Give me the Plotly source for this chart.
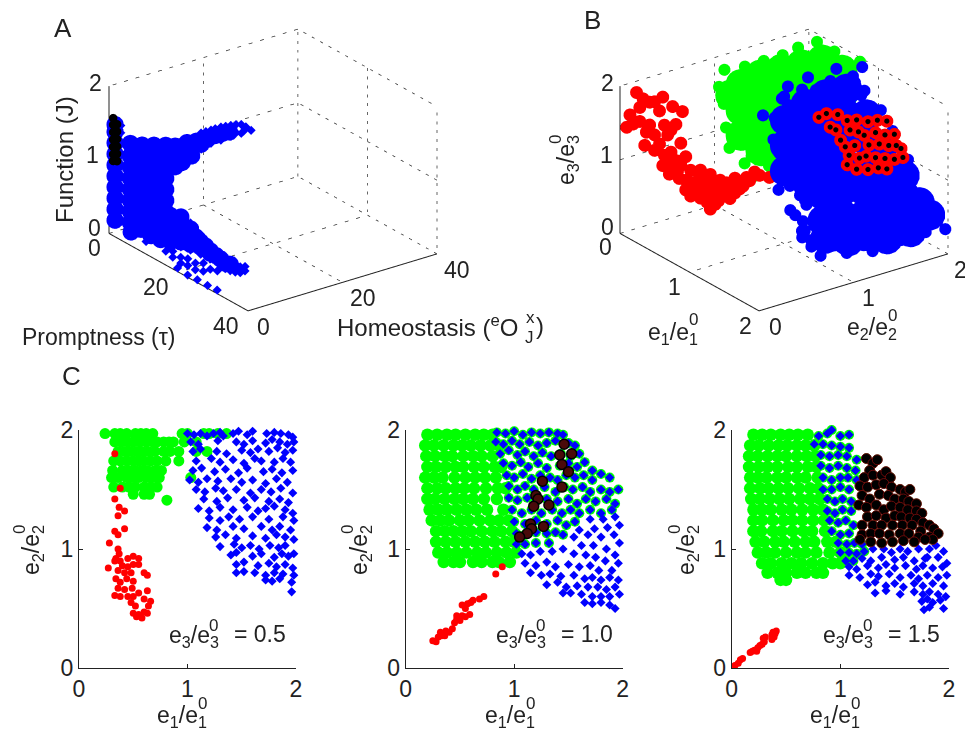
import plotly.graph_objects as go

# ---------- Panel C data: (e1/e1^0, e2/e2^0) pairs, rows are (e2, [e1...]) ----------
c1_green_rows = [
 (1.97,[.24,.33,.38,.44,.52,.57,.62,.68,.95,1.0,1.15,1.2,1.28,1.36]),
 (1.9,[.33,.39,.45,.5,.56,.62,.68,.72,.78,.83,.87,.97,1.08]),
 (1.82,[.36,.42,.47,.53,.58,.64,.7,.78,.84,.92,1.08,1.18]),
 (1.74,[.32,.38,.44,.5,.55,.6,.66,.72,.8,.92]),
 (1.66,[.31,.4,.46,.52,.58,.63,.7,.76]),
 (1.6,[.3,.36,.44,.49,.55,.62,.68,.74,1.03]),
 (1.52,[.32,.4,.46,.52,.6,.66,.72]),
 (1.46,[.5,.6,.65]),
 (1.41,[.81]),
]
c1_red = [(.33,1.8),(.38,1.51),(.33,1.42),(.37,1.35),(.42,1.32),(.36,1.28),(.33,1.15),(.42,1.17),(.36,1.12),(.28,1.05),(.36,1.0),(.37,.96),(.34,.92),(.38,.9),(.45,.92),(.5,.94),(.55,.92),(.33,.9),(.4,.86),(.45,.85),(.5,.87),(.55,.87),(.27,.84),(.36,.82),(.42,.8),(.48,.8),(.6,.8),(.63,.78),(.34,.75),(.38,.72),(.44,.75),(.5,.73),(.36,.67),(.42,.66),(.49,.67),(.55,.63),(.63,.65),(.33,.61),(.38,.6),(.45,.6),(.5,.6),(.6,.58),(.48,.55),(.52,.52),(.66,.56),(.64,.52),(.5,.46),(.55,.45),(.6,.47),(.63,.46),(.58,.42),(.53,.43)]
c1_blue = [(1.0,1.97),(1.06,1.96),(1.12,1.97),(1.18,1.95),(1.24,1.97),(1.3,1.98),(1.33,1.95),(1.42,1.97),(1.47,1.99),(1.55,1.96),(1.6,1.99),(1.73,1.97),(1.8,1.98),(1.86,1.97),(1.93,1.96),(1.97,1.94),
 (1.03,1.9),(1.1,1.88),(1.28,1.91),(1.45,1.9),(1.52,1.88),(1.6,1.91),(1.72,1.89),(1.78,1.92),(1.85,1.9),(1.92,1.88),(1.98,1.9),
 (1.05,1.82),(1.12,1.84),(1.27,1.82),(1.36,1.8),(1.5,1.83),(1.58,1.81),(1.65,1.84),(1.75,1.82),(1.83,1.85),(1.9,1.81),(1.97,1.83),
 (1.08,1.74),(1.22,1.76),(1.3,1.73),(1.42,1.75),(1.52,1.72),(1.62,1.76),(1.68,1.74),(1.8,1.73),(1.88,1.76),(1.95,1.73),
 (1.05,1.66),(1.13,1.68),(1.25,1.65),(1.35,1.67),(1.47,1.64),(1.55,1.68),(1.7,1.65),(1.78,1.67),(1.87,1.64),(1.97,1.66),
 (1.02,1.58),(1.1,1.56),(1.18,1.59),(1.28,1.57),(1.4,1.59),(1.5,1.56),(1.6,1.58),(1.72,1.55),(1.82,1.59),(1.92,1.56),
 (1.08,1.5),(1.16,1.48),(1.26,1.51),(1.33,1.49),(1.45,1.5),(1.58,1.47),(1.68,1.5),(1.77,1.48),(1.86,1.51),(1.97,1.47),
 (1.15,1.42),(1.27,1.4),(1.37,1.43),(1.52,1.41),(1.62,1.43),(1.75,1.4),(1.85,1.42),(1.93,1.39),
 (1.1,1.34),(1.2,1.32),(1.3,1.35),(1.42,1.33),(1.55,1.35),(1.65,1.32),(1.72,1.34),(1.8,1.36),(1.9,1.33),(1.97,1.3),
 (1.2,1.26),(1.3,1.24),(1.38,1.27),(1.48,1.25),(1.6,1.27),(1.75,1.25),(1.88,1.27),(1.98,1.24),
 (1.18,1.18),(1.27,1.16),(1.42,1.19),(1.52,1.17),(1.68,1.19),(1.78,1.16),(1.85,1.19),(1.95,1.16),
 (1.26,1.1),(1.35,1.12),(1.45,1.09),(1.6,1.11),(1.72,1.09),(1.82,1.12),(1.9,1.1),(1.98,1.08),
 (1.3,1.02),(1.43,1.04),(1.5,1.01),(1.58,1.03),(1.66,1.0),(1.76,1.03),(1.84,1.01),(1.9,1.03),
 (1.4,.95),(1.45,.97),(1.6,.94),(1.68,.96),(1.8,.93),(1.87,.96),(1.93,.94),(1.98,.96),
 (1.45,.87),(1.52,.89),(1.65,.86),(1.75,.88),(1.82,.85),(1.9,.87),(1.97,.84),
 (1.45,.8),(1.52,.81),(1.62,.8),(1.72,.78),(1.8,.8),(1.88,.79),(1.98,.78),
 (1.72,.74),(1.78,.73),(1.85,.75),(1.96,.72),(1.96,.64)]

c2_green_rows = [
 (1.96,[.2,.29,.38,.46,.55,.64,.72,.8]),
 (1.87,[.18,.26,.35,.44,.52,.6,.69,.78,.86]),
 (1.78,[.19,.27,.36,.43,.53,.62,.7,.8]),
 (1.69,[.2,.28,.37,.46,.53,.63,.72,.82,.88]),
 (1.6,[.18,.26,.34,.45,.55,.64,.73,.83]),
 (1.51,[.2,.29,.37,.46,.54,.63,.74,.85,.92]),
 (1.42,[.2,.27,.36,.45,.53,.62,.72,.84]),
 (1.33,[.22,.3,.38,.47,.56,.65,.75,.9]),
 (1.24,[.24,.32,.4,.5,.58,.68,.78,.86,.95]),
 (1.15,[.28,.36,.44,.52,.6,.7,.8,.88,.98]),
 (1.06,[.28,.37,.46,.55,.64,.73,.82,.92,1.0]),
 (.97,[.3,.38,.47,.56,.66,.74,.84,.93,1.02]),
 (.89,[.35,.44,.5,.62,.7,.8,.86,.96]),
]
c2_both = [(.84,1.98),(.92,1.97),(1.0,1.99),(1.08,1.96),(1.16,1.98),(1.24,1.97),(1.32,1.98),(1.4,1.97),(1.45,1.96),
 (.83,1.9),(.9,1.88),(.98,1.91),(1.05,1.88),(1.14,1.9),(1.22,1.87),(1.3,1.89),(1.38,1.91),(1.5,1.89),(1.56,1.87),
 (.87,1.8),(.95,1.83),(1.03,1.79),(1.1,1.82),(1.18,1.78),(1.26,1.81),(1.34,1.78),(1.43,1.8),(1.52,1.78),(1.6,1.8),
 (.9,1.72),(.98,1.7),(1.06,1.73),(1.13,1.69),(1.22,1.72),(1.3,1.68),(1.42,1.7),(1.5,1.72),(1.58,1.69),(1.65,1.73),(1.72,1.66),
 (.93,1.62),(1.0,1.6),(1.08,1.63),(1.16,1.59),(1.24,1.62),(1.33,1.6),(1.4,1.58),(1.48,1.62),(1.56,1.6),(1.64,1.62),(1.72,1.58),(1.8,1.63),(1.88,1.6),
 (.95,1.53),(1.03,1.5),(1.1,1.53),(1.18,1.5),(1.28,1.52),(1.38,1.48),(1.46,1.52),(1.54,1.5),(1.63,1.52),(1.7,1.48),(1.8,1.5),(1.88,1.48),(1.96,1.5),
 (.95,1.43),(1.03,1.41),(1.12,1.43),(1.2,1.4),(1.3,1.42),(1.4,1.4),(1.5,1.42),(1.58,1.38),(1.66,1.42),(1.75,1.4),(1.85,1.42),(1.93,1.38),
 (.98,1.33),(1.07,1.3),(1.16,1.33),(1.25,1.3),(1.35,1.33),(1.44,1.3),(1.52,1.33),(1.6,1.3),(1.7,1.33),(1.8,1.3),(1.9,1.33),
 (1.0,1.23),(1.1,1.21),(1.2,1.24),(1.3,1.21),(1.4,1.24),(1.48,1.2),(1.56,1.23),
 (1.02,1.13),(1.1,1.12),(1.2,1.14),(1.3,1.13),(1.38,1.14),(1.45,1.12),
 (1.02,1.04),(1.1,1.04),(1.2,1.05),(1.32,1.05)]
c2_blue_only = [(1.7,1.25),(1.82,1.25),(1.93,1.27),(1.97,1.2),(1.86,1.18),(1.74,1.17),(1.6,1.16),
 (1.55,1.1),(1.68,1.12),(1.8,1.1),(1.92,1.12),(1.97,1.05),(1.62,1.03),(1.73,1.03),(1.85,1.0),(1.93,.95),
 (1.07,.96),(1.15,.95),(1.24,.98),(1.35,.98),(1.45,1.0),(1.55,.96),(1.66,.95),(1.75,.93),(1.84,.9),(1.96,.88),
 (1.1,.88),(1.2,.86),(1.3,.89),(1.38,.85),(1.5,.87),(1.6,.85),(1.7,.86),(1.78,.82),(1.9,.82),
 (1.15,.8),(1.25,.78),(1.33,.79),(1.43,.77),(1.55,.78),(1.65,.75),(1.72,.76),(1.8,.74),(1.88,.76),(1.96,.74),
 (1.3,.7),(1.4,.72),(1.48,.68),(1.58,.69),(1.68,.68),(1.77,.68),(1.85,.66),(1.93,.68),
 (1.45,.63),(1.52,.63),(1.62,.62),(1.72,.6),(1.8,.6),(1.88,.6),(1.97,.62),
 (1.65,.55),(1.72,.54),(1.8,.55),(1.88,.53),(1.93,.5)]
c2_black = [(1.46,1.88),(1.42,1.79),(1.53,1.8),(1.44,1.71),(1.5,1.65),(1.26,1.57),(1.44,1.52),(1.2,1.45),(1.22,1.42),(1.18,1.36),(1.32,1.37),(1.15,1.21),(1.16,1.17),(1.27,1.19),(1.12,1.13),(1.05,1.1)]
c2_red = [(.25,.23),(.28,.22),(.3,.26),(.33,.27),(.32,.3),(.36,.27),(.37,.31),(.4,.3),(.43,.33),(.45,.38),(.47,.41),(.5,.4),(.47,.44),(.52,.44),(.55,.43),(.59,.45),(.55,.5),(.52,.53),(.57,.54),(.6,.55),(.62,.57),(.68,.58),(.72,.6),(.83,.79),(.89,.85)]

c3_green_rows = [
 (1.96,[.2,.28,.36,.45,.53,.61,.7]),
 (1.87,[.17,.25,.34,.43,.51,.6,.68,.76]),
 (1.78,[.16,.24,.33,.42,.5,.6,.69,.77]),
 (1.69,[.16,.25,.33,.42,.52,.6,.7,.78]),
 (1.6,[.17,.24,.32,.42,.5,.6,.68,.79]),
 (1.51,[.17,.26,.34,.43,.52,.62,.72,.8]),
 (1.42,[.18,.26,.35,.44,.53,.63,.72,.81]),
 (1.33,[.2,.28,.36,.46,.55,.65,.75,.84]),
 (1.24,[.2,.28,.38,.48,.56,.65,.75,.85]),
 (1.15,[.2,.27,.38,.46,.56,.66,.74,.86]),
 (1.06,[.22,.3,.4,.48,.58,.68,.76,.88,.96]),
 (.97,[.24,.32,.4,.5,.6,.68,.78,.9,1.0]),
 (.88,[.28,.36,.46,.55,.64,.74,.84,.93,1.0]),
 (.8,[.33,.42,.5,.6,.68,.78,.84]),
 (.74,[.45,.5]),
]
c3_both = [(.8,1.95),(.88,1.97),(.92,2.0),(1.0,1.95),(1.08,1.96),(.76,1.88),(.84,1.88),(.92,1.87),(1.0,1.86),(1.08,1.85),(.82,1.79),(.9,1.78),(.98,1.79),(1.06,1.78),(1.15,1.75),
 (.82,1.7),(.9,1.68),(.98,1.7),(1.06,1.68),(1.14,1.66),(.84,1.6),(.92,1.58),(1.0,1.6),(1.07,1.6),(1.15,1.58),(.84,1.5),(.92,1.5),(1.0,1.52),(1.08,1.5),(.88,1.42),(.95,1.4),(1.02,1.42),(1.1,1.4),
 (.88,1.32),(.95,1.3),(1.02,1.33),(1.1,1.32),(.9,1.24),(.98,1.22),(1.05,1.24),(1.12,1.2),(.92,1.15),(1.0,1.12),(1.08,1.13),(.98,1.05),(1.06,1.04),(1.13,1.05),(1.2,1.04),(1.0,.97),(1.08,.97),(1.15,.96),(1.22,.98),(1.05,.9),(1.12,.9)]
c3_blue_only = [(1.3,1.0),(1.4,1.0),(1.47,.97),(1.55,1.0),(1.62,.98),(1.72,1.0),(1.82,1.0),(1.88,1.03),(1.95,.98),(1.8,.93),(1.9,.93),(1.98,.88),
 (1.2,.92),(1.28,.9),(1.38,.93),(1.5,.91),(1.58,.93),(1.68,.9),(1.78,.92),
 (1.08,.85),(1.15,.83),(1.25,.86),(1.35,.84),(1.42,.87),(1.5,.84),(1.6,.86),(1.7,.83),(1.76,.86),(1.85,.84),(1.94,.85),
 (1.08,.78),(1.18,.76),(1.28,.79),(1.35,.77),(1.45,.79),(1.55,.76),(1.65,.78),(1.72,.75),(1.8,.78),(1.9,.76),(1.98,.78),
 (1.25,.7),(1.32,.72),(1.42,.69),(1.5,.71),(1.58,.68),(1.68,.71),(1.76,.69),(1.85,.71),(1.95,.69),
 (1.32,.63),(1.42,.65),(1.55,.62),(1.68,.64),(1.76,.62),(1.82,.64),(1.9,.62),(1.97,.6),
 (1.75,.56),(1.8,.58),(1.85,.55),(1.92,.57),(1.77,.49),(1.82,.51),(1.95,.5)]
c3_black = [(1.24,1.76),(1.3,1.72),(1.34,1.75),(1.27,1.66),(1.22,1.6),(1.3,1.62),(1.38,1.62),(1.42,1.65),(1.46,1.6),(1.18,1.53),(1.25,1.52),(1.33,1.54),(1.4,1.55),(1.47,1.52),(1.55,1.5),(1.6,1.48),(1.64,1.5),
 (1.2,1.45),(1.27,1.42),(1.36,1.46),(1.44,1.45),(1.5,1.42),(1.58,1.42),(1.63,1.4),(1.7,1.38),
 (1.17,1.37),(1.24,1.35),(1.33,1.37),(1.4,1.33),(1.47,1.36),(1.55,1.35),(1.62,1.33),(1.7,1.32),(1.75,1.3),
 (1.25,1.27),(1.33,1.28),(1.42,1.26),(1.5,1.28),(1.56,1.27),(1.64,1.26),(1.7,1.25),(1.76,1.22),(1.82,1.2),
 (1.2,1.2),(1.3,1.2),(1.38,1.2),(1.48,1.2),(1.57,1.2),(1.66,1.2),(1.74,1.15),(1.86,1.17),(1.9,1.13),
 (1.2,1.12),(1.28,1.13),(1.36,1.13),(1.45,1.12),(1.55,1.13),(1.63,1.13),(1.72,1.1),(1.82,1.1),(1.85,1.08),
 (1.18,1.08),(1.28,1.06),(1.38,1.05),(1.48,1.06),(1.58,1.07),(1.68,1.06),(1.78,1.08)]
c3_red = [(.03,.02),(.06,.04),(.08,.07),(.1,.08),(.17,.13),(.19,.14),(.21,.15),(.24,.17),(.23,.14),(.26,.19),(.28,.2),(.3,.22),(.29,.25),(.31,.26),(.37,.24),(.39,.26),(.37,.28),(.4,.29),(.41,.31),(.38,.3)]

# ---------- Panel A data: (promptness, homeostasis, function) ----------
a_blue_small = [(2,18,1.07),(2,18,.95),(2,18,.85),(2,19,1.07),(2,19,.88),(2,20.1,1.07),(2,20.1,.98),(2,20.1,.89),(2,21,1.07),(2,21,.95),(2,22.2,1.07),(2,22.2,.98),(2,22.2,.89),
 (2,23.2,1.06),(2,23.2,.92),(2,24.3,1.05),(2,24.3,.9),(2,25.4,1.04),(2,25.4,.93),(2,26.5,1.02),(2,26.5,.9),(2,27.5,.97),(2,28.6,.9),(2,27,.92),
 (30.7,2,.43),(30.7,2,.29),(32.1,2,.44),(32.1,2,.3),(33.6,2,.43),(33.6,2,.32),(35,2,.43),(35,2,.35),(36.4,2,.47),(36.4,2,.41),(32,2,.37),(34,2,.38),
 (20.7,2,.65),(20.7,2,.28),(23.6,2,.57),(23.6,2,.3),(26.4,2,.49),(26.4,2,.31),(29.3,2,.46),(29.3,2,.3),(17.9,2,.25),
 (7.9,2,.06),(10.7,2,.14),(13.6,2,.08),(15.6,2,.13),(15.6,2,.05),(17.9,2,.11),(17.9,2,.03),(19.9,2,.14),(19.9,2,.05),(22.1,2,.14),(22.1,2,.05),(24.4,2,.2),(24.4,2,.09),(26.4,2,.17),(28.4,2,.2),
 (19.7,0,.05),(22.6,0,.03),(25.4,0,.04),(28.3,0,.04),(31.1,0,.05),(2,1,1.5),(2,1,1.4)]
a_blue_big = [(1,.5,1.5),(1,.5,1.4),(1,.5,1.25),(1,.5,1.1),(1,.5,.95),(1,.5,.8),(1,.5,.65),(1,.5,.5),(1,.5,.35),(1,.5,.2),
 (2,3,1.22),(2,3,1.05),(2,3,.9),(2,3,.75),(2,3,.6),(2,3,.45),(2,3,.3),(2,3,.15),
 (2,5.5,1.15),(2,5.5,1.0),(2,5.5,.85),(2,5.5,.7),(2,5.5,.55),(2,5.5,.4),(2,5.5,.25),(2,5.5,.1),
 (2,8,1.1),(2,8,.95),(2,8,.8),(2,8,.65),(2,8,.5),(2,8,.35),(2,8,.2),(2,8,.05),
 (2,10.5,1.05),(2,10.5,.9),(2,10.5,.75),(2,10.5,.6),(2,10.5,.45),(2,10.5,.3),(2,10.5,.15),(2,10.5,.02),
 (2,12.5,1.0),(2,12.5,.85),(2,12.5,.72),(2,14,.75),(2,15,1.0),(2,15,.85),(2,16,.8),(2,17,.98),(2,18,.92),(2,19,.96),(2,21,.98),(2,22.5,.98),(2,24,.97),
 (3.6,2,.08),(6.4,2,.19),(9.3,2,.3),(9.3,2,.18),(12.1,2,.38),(12.1,2,.2),(14,2,.5),(15,2,.6),(15,2,.41),(15,2,.25),
 (17.9,2,.66),(17.9,2,.47),(17.9,2,.32),(19,2,.55),(20.7,2,.57),(20.7,2,.36),(22,2,.5),(23.6,2,.47),(23.6,2,.4),(25,2,.45),(26.4,2,.42),(26.4,2,.39),(28,2,.4),(29.3,2,.39),(31,2,.37),(32.1,2,.39)]
a_black = [(.5,.5,1.57),(.5,.5,1.48),(.5,.5,1.38),(.5,.5,1.28),(.5,.5,1.18),(.5,.5,1.08),(.5,.5,.99),(1.2,.8,1.5),(1.2,.8,1.4),(1.2,.8,1.3),(1.2,.8,1.2),(1.2,.8,1.1),(1.2,.8,1.0)]

# ---------- Panel B data: (e1, e2, e3) ----------
b_blue = [(1.9,1.0,.35),(2,1.2,.35),(1.95,1.4,.35),(2,1.6,.35),(1.95,1.8,.35),(2,1.97,.35),(1.8,1.1,.35),(1.8,1.4,.35),(1.8,1.7,.35),(1.75,1.95,.35),(1.65,1.3,.35),(1.65,1.6,.35),
 (1.5,.85,.5),(1.6,.75,.5),(1.8,.7,.5),(2,.65,.5),(1.6,1.05,.5),(1.8,.95,.5),(2,.9,.5),(1.45,1.1,.5),(1.3,1.3,.5),(1.15,1.5,.5),(1.5,1.4,.5),(1.7,1.3,.5),(1.0,1.7,.5),(1.2,1.8,.5),(1.4,1.7,.5),(1.6,1.6,.5),(1.8,1.6,.5),(1.2,2,.5),(1.5,1.95,.5),(1.8,1.9,.5),
 (1.1,1.25,.75),(1.3,1.0,.75),(1.5,.75,.75),(1.8,.6,.75),(2,.55,.75),(1.75,.85,.75),(2,.8,.75),(2,1.1,.75),(2,1.4,.75),(2,1.7,.75),(1.75,1.75,.75),(1.5,1.98,.75),
 (1,1,1),(1.3,.72,1),(1.7,.55,1),(1.95,.5,1),(1.2,.95,1),(1.5,.8,1),(2,.75,1),(.9,1.5,1),(1.9,1.25,1),(.85,1.75,1),(2,1.4,1),(.85,1.95,1),(1.1,1.95,1),(1.35,1.8,1),(1.6,1.75,1),(1.45,1.98,1),(1.75,1.7,1),
 (1,.95,1.25),(1.2,.8,1.25),(1.6,.62,1.25),(2,.5,1.25),(1.4,.75,1.25),(1.8,.6,1.25),(.95,1.2,1.25),(1.95,.8,1.25),(.85,1.5,1.25),(2,1.15,1.25),(.8,1.75,1.25),(1.8,1.35,1.25),(.8,2,1.25),(1.05,1.8,1.25),(1.3,1.75,1.25),(1.5,1.7,1.25),(1.2,2,1.25),
 (1.05,.85,1.5),(1.5,.7,1.5),(1.95,.5,1.5),(1.25,.8,1.5),(1.7,.6,1.5),(.85,1.4,1.5),(1.95,.8,1.5),(.75,2,1.5),(.8,1.7,1.5),(1.95,1.05,1.5),(1,1.85,1.5),(1.1,1.95,1.5),(1.2,1.8,1.5),(1.6,1.4,1.5),
 (.9,.85,1.75),(1,.9,1.75),(1.4,.8,1.75),(1.8,.6,1.75),(1.2,.85,1.75),(1.6,.7,1.75),(.85,1.15,1.75),(1.75,.85,1.75),(.8,1.4,1.75),(.75,1.65,1.75),(.7,1.95,1.75),(.9,1.8,1.75),(1.0,1.85,1.75),(1.3,1.5,1.75),
 (.9,1.05,1.9),(.85,1.3,1.9),(.85,1.6,1.9),(1.35,.95,1.9),(1.0,1.75,1.9),
 (.85,1.15,2),(.8,1.4,2),(.8,1.7,2),(.9,1.9,2),(1.05,1.6,2),(1.05,1.3,2),(1,1,2),(1.3,1.2,2),(1.25,.95,2),(1.5,1,2)]
b_blue_core = [(1,1.01,1.68),(1,1.01,1.34),(1,1.01,.99),(1,1.23,1.81),(1,1.23,1.46),(1,1.23,1.12),(1,1.23,.77),(1,1.44,1.86),(1,1.44,1.52),(1,1.44,1.17),(1,1.44,.83),(1,1.66,1.85),(1,1.66,1.5),(1,1.66,1.16),(1,1.66,.81),(1,1.87,1.42),(1,1.87,1.07),(1,1.87,.73),
 (1.8,.82,1.16),(1.8,.82,.81),(1.8,.85,.56),(1.8,.93,.56),(1.8,1.03,1.14),(1.8,1.03,.8),(1.8,1.09,.43),(1.8,1.25,1.06),(1.8,1.25,.71),(1.8,1.25,.44),(1.8,1.41,.37),(1.8,1.5,.3),(1.8,1.46,1.59),(1.8,1.46,1.25),(1.8,1.46,.9),(1.8,1.46,.56),(1.8,1.63,.36),(1.8,1.75,.3),(1.8,1.68,1.09),(1.8,1.68,.82),(1.8,1.68,.54),(1.8,1.79,.5),(1.8,1.84,.66),(1.8,1.95,.45)]
b_green = [(.25,.92,2),(.3,1.1,2),(.3,1.3,2),(.3,1.5,2),(.25,1.7,2),(.25,1.9,2),(.5,1.0,2),(.5,1.3,2),(.5,1.6,2),(.5,1.9,2),(.75,1.1,2),(.75,1.4,2),(.75,1.7,2),(.8,1.95,2),
 (.2,.9,1.75),(.3,1.15,1.75),(.25,1.75,1.75),(.5,1.95,1.75),(.75,1.75,1.75),
 (.2,.95,1.5),(.3,1.2,1.5),(.5,.95,1.5),(.3,1.85,1.5),
 (.3,.9,1.25),(.35,1.2,1.25),(.55,.95,1.25),
 (.35,.9,1),(.6,.95,1),(.85,.95,1),(.4,1.2,1),
 (.5,.95,.85),(.7,.9,.8),(.55,1.2,.8),(.75,1.2,.8)]
b_green_core = [(.5,.8,1.84),(.5,.91,1.94),(.5,.91,1.59),(.5,.91,1.25),(.5,1.12,1.99),(.5,1.12,1.65),(.5,1.12,1.3),(.5,1.12,.96),(.5,1.34,1.98),(.5,1.34,1.63),(.5,1.34,1.29),(.5,1.34,.94),(.5,1.55,1.96),(.5,1.55,1.62),(.5,1.55,1.27),(.5,1.55,.93),(.5,1.77,1.94),(.5,1.77,1.6),(.5,1.77,1.26),(.5,1.98,1.72),(.5,1.98,1.38)]
b_red = [(.10,.10,1.93),(.18,.18,1.81),(.26,.26,1.89),(.21,.21,1.82),(.32,.32,1.77),(.38,.38,1.71),(.12,.12,1.73),(.06,.06,1.62),(.04,.04,1.45),(.12,.12,1.54),(.18,.18,1.5),(.27,.27,1.51),(.34,.34,1.53),
 (.15,.15,1.22),(.21,.21,1.37),(.29,.29,1.38),(.37,.37,1.28),(.21,.21,1.16),(.27,.27,1.1),(.34,.34,1.04),(.26,.26,.96),(.43,.43,.92),(.32,.32,.87),(.37,.37,.98),(.40,.40,.78),(.49,.49,.93),(.46,.46,.71),(.52,.52,.79),(.49,.49,.55),(.55,.55,.41),(.6,.6,.53),(.55,.55,.66),(.64,.64,.67),(.67,.67,.57),(.73,.73,.71),(.79,.79,.83),(.85,.85,.91),(.91,.91,.89),(.82,.82,.95),(.61,.61,.81),(.70,.70,.85),(.43,.43,.57),(.58,.58,.75),(.5,.5,.65),(.65,.65,.78),(.57,.57,.6),
 (.47,.47,.62),(.52,.52,.6),(.62,.62,.6),(.58,.58,.48),(.53,.53,.5),(.7,.7,.65),(.75,.75,.75),(.42,.42,.68),(.48,.48,.8),(.55,.55,.88),(.35,.35,.9),(.3,.3,1.0),(.62,.62,.72),(.68,.68,.72),(.77,.77,.87),
 (.14,.14,1.85),(.08,.08,1.5),(.24,.24,1.7),(.16,.16,1.4),(.31,.31,1.45),(.24,.24,1.25),(.31,.31,1.15),(.4,.4,1.1),(.3,.3,.85),(.36,.36,.8),(.44,.44,.75),(.4,.4,.65)]
b_black = [(1.5,1.0,1.98),(1.5,1.08,2.0),(1.5,1.12,1.8),(1.5,1.2,1.94),(1.5,1.18,1.74),(1.5,1.23,1.58),(1.5,1.3,1.82),(1.5,1.33,1.68),(1.5,1.28,1.47),(1.5,1.32,1.34),(1.5,1.3,1.22),
 (1.5,1.4,1.79),(1.5,1.42,1.62),(1.5,1.38,1.45),(1.5,1.43,1.26),(1.5,1.4,1.12),(1.5,1.52,1.72),(1.5,1.48,1.55),(1.5,1.53,1.4),(1.5,1.5,1.26),(1.5,1.52,1.07),
 (1.5,1.62,1.7),(1.5,1.6,1.54),(1.5,1.64,1.37),(1.5,1.6,1.2),(1.5,1.63,1.05),(1.5,1.72,1.65),(1.5,1.7,1.47),(1.5,1.74,1.31),(1.5,1.7,1.15),(1.5,1.72,1.0),(1.5,1.8,1.44),(1.5,1.82,1.28),(1.5,1.8,1.1),(1.5,1.87,1.22),(1.5,1.89,1.09)]

x_ticks = [0, 1, 2]

GREEN, BLUE, RED, BLACK = "#00ff00", "#0000ff", "#ff0000", "#000000"
FONT = "Liberation Sans, Arial, sans-serif"
INK = "#222222"
W, H = 965, 733

fig = go.Figure()

def flat(rows):
    return [(x, y) for y, xs in rows for x in xs]

def pts2d(p, color, size, symbol, ax, line=None):
    fig.add_trace(go.Scatter(x=[q[0] for q in p], y=[q[1] for q in p], mode="markers", xaxis=f"x{ax}", yaxis=f"y{ax}", cliponaxis=False,
        marker=dict(color=color, size=size, symbol=symbol, line=line or dict(width=0)), hoverinfo="skip", showlegend=False))

pts2d(flat(c1_green_rows), GREEN, 11, "circle", 1)
pts2d(c1_blue, BLUE, 7, "diamond", 1)
pts2d(c1_red, RED, 7, "circle", 1)

pts2d(flat(c2_green_rows), GREEN, 12.5, "circle", 2)
pts2d(c2_both, GREEN, 10, "circle", 2)
pts2d(c2_both + c2_blue_only, BLUE, 7, "diamond", 2)
pts2d(c2_red, RED, 7, "circle", 2)
pts2d(c2_black, "#4a0a0a", 10, "circle", 2, dict(width=1.5, color="#000000"))

pts2d(flat(c3_green_rows), GREEN, 12.5, "circle", 3)
pts2d(c3_both + c3_black, GREEN, 10, "circle", 3)
pts2d(c3_both + c3_blue_only, BLUE, 7, "diamond", 3)
pts2d(c3_red, RED, 7, "circle", 3)
pts2d(c3_black, "#000000", 10, "circle", 3, dict(width=1, color="#6a0a0a"))

def px_dom_x(a, b): return [a / W, b / W]
def px_dom_y(a, b): return [1 - b / H, 1 - a / H]

axis_common = dict(range=[0, 2], tickvals=x_ticks, ticks="inside", ticklen=4, tickcolor=INK, showline=True, linecolor=INK, linewidth=1.2,
                   showgrid=False, zeroline=False, tickfont=dict(family=FONT, size=23, color=INK), mirror=False)
panels = [(79, 296), (405.7, 622.7), (731.7, 949)]
layout = dict(width=W, height=H, margin=dict(l=0, r=0, t=0, b=0, autoexpand=False), paper_bgcolor="white", plot_bgcolor="rgba(0,0,0,0)", showlegend=False)
for i, (a, b) in enumerate(panels, 1):
    layout[f"xaxis{i}" if i > 1 else "xaxis"] = dict(domain=px_dom_x(a, b), anchor=f"y{i}" if i > 1 else "y", **axis_common)
    layout[f"yaxis{i}" if i > 1 else "yaxis"] = dict(domain=px_dom_y(430, 668), anchor=f"x{i}" if i > 1 else "x", **axis_common)

# ---------- 3D scenes ----------
EYE = 1.4
eye = dict(x=.735 * EYE, y=-.541 * EYE, z=.41 * EYE)
ASPECT = dict(x=1.38, y=1.38, z=.95)

def scene(cx):
    ax = lambda r: dict(visible=False, range=[0, r], autorange=False)
    return lambda rx, rz: dict(domain=dict(x=px_dom_x(cx - 180, cx + 180), y=px_dom_y(0, 340)), xaxis=ax(rx), yaxis=ax(rx), zaxis=ax(rz),
        aspectmode="manual", aspectratio=ASPECT, bgcolor="rgba(0,0,0,0)",
        camera=dict(eye=eye, up=dict(x=0, y=0, z=1), center=dict(x=0, y=0, z=0), projection=dict(type="orthographic")))

def pts3d(p, color, size, symbol, sc, line=None):
    fig.add_trace(go.Scatter3d(x=[q[0] for q in p], y=[q[1] for q in p], z=[q[2] for q in p], mode="markers", scene=sc,
        marker=dict(color=color, size=size, symbol=symbol, opacity=1, line=line or dict(width=0)), hoverinfo="skip", showlegend=False))

def box3d(r, rz, sc):
    m, zm = r / 2, rz / 2
    xs, ys, zs = [], [], []
    segs = [((0,0,0),(0,r,0)),((0,r,0),(r,r,0)),((m,0,0),(m,r,0)),((0,m,0),(r,m,0)),
            ((0,0,rz),(0,r,rz)),((0,r,rz),(r,r,rz)),((0,0,zm),(0,r,zm)),((0,r,zm),(r,r,zm)),
            ((0,m,0),(0,m,rz)),((0,r,0),(0,r,rz)),((m,r,0),(m,r,rz)),((r,r,0),(r,r,rz))]
    for s, e in segs:
        xs += [s[0], e[0], None]; ys += [s[1], e[1], None]; zs += [s[2], e[2], None]
    fig.add_trace(go.Scatter3d(x=xs, y=ys, z=zs, mode="lines", scene=sc, line=dict(color="#333333", width=1.5, dash="dot"), hoverinfo="skip", showlegend=False))
    fig.add_trace(go.Scatter3d(x=[0,0,None,0,r,r], y=[0,0,None,0,0,r], z=[0,rz,None,0,0,0], mode="lines", scene=sc, line=dict(color=INK, width=2), hoverinfo="skip", showlegend=False))

box3d(40, 2, "scene")
pts3d(a_blue_big, BLUE, 10, "circle", "scene")
pts3d(a_blue_small, BLUE, 3, "diamond", "scene")
pts3d(a_black, BLACK, 5, "circle", "scene2")
box3d(2, 2, "scene3")
pts3d(b_green_core, GREEN, 18, "circle", "scene3")
pts3d(b_green, GREEN, 7, "circle", "scene3")
pts3d(b_red, RED, 7.5, "circle", "scene3")
pts3d(b_blue_core, BLUE, 18, "circle", "scene4")
pts3d(b_blue, BLUE, 7, "circle", "scene4")
pts3d(b_black, RED, 7.5, "circle", "scene5")
pts3d(b_black, BLACK, 3, "circle", "scene6")

sA, sB = scene(272.5), scene(784)
layout["scene"] = sA(40, 2); layout["scene2"] = sA(40, 2)
for k in ("scene3", "scene4", "scene5", "scene6"):
    layout[k] = sB(2, 2)

# ---------- Text ----------
ann = []
def text(x, y, s, size=21, rot=0, xa="center"):
    ann.append(dict(x=x / W, y=1 - y / H, xref="paper", yref="paper", text=s, showarrow=False, font=dict(family=FONT, size=size, color=INK), textangle=rot, xanchor=xa, yanchor="middle"))

def ratio(cx, cy, i, rot=0):
    text(cx, cy, f"e<sub>{i}</sub>/e<sub>{i}</sub>", 23, rot)
    if rot == 0:
        text(cx + 20, cy - 13, "0", 17)
    else:
        text(cx - 13, cy - 20, "0", 17, rot)

for x, y, s in [(63, 28, "A"), (592, 20, "B"), (71, 376, "C")]:
    text(x, y, s, 26)

for x, y, s in [(95, 83, "2"), (92, 155, "1"), (94, 228, "0"), (94, 248, "0"), (156, 287, "20"), (226, 326, "40"), (263, 327, "0"), (363, 298, "20"), (457, 270, "40"),
                (607, 83, "2"), (606, 155, "1"), (607, 227, "0"), (605, 247, "0"), (674, 287, "1"), (745, 326, "2"), (775, 327, "0"), (868, 298, "1"), (960, 270, "2")]:
    text(x, y, s, 23)

text(65, 160, "Function (J)", 24, -90)
text(99, 337, "Promptness (τ)", 23)
text(335, 326, "Homeostasis (<sup>e</sup>O", 24, 0, "left")
text(530, 317, "x", 17); text(529, 338, "J", 17); text(540, 326, ")", 24)
ratio(568, 160, 3, -90)
ratio(673, 333, 1); ratio(872, 328, 2)
for cx in (182, 510, 835):
    ratio(cx, 716, 1)
for cx in (32, 360, 687):
    ratio(cx, 550, 2, -90)
for cx, v in [(228, "0.5"), (555, "1.0"), (882, "1.5")]:
    text(cx - 34, 636, "e<sub>3</sub>/e<sub>3</sub>", 23)
    text(cx - 15, 625, "0", 17)
    text(cx + 32, 634, "= " + v, 23)

layout["annotations"] = ann
fig.update_layout(**layout)
fig.write_html("out.html", post_script="document.body.style.margin='0';", config={"displayModeBar": False})
